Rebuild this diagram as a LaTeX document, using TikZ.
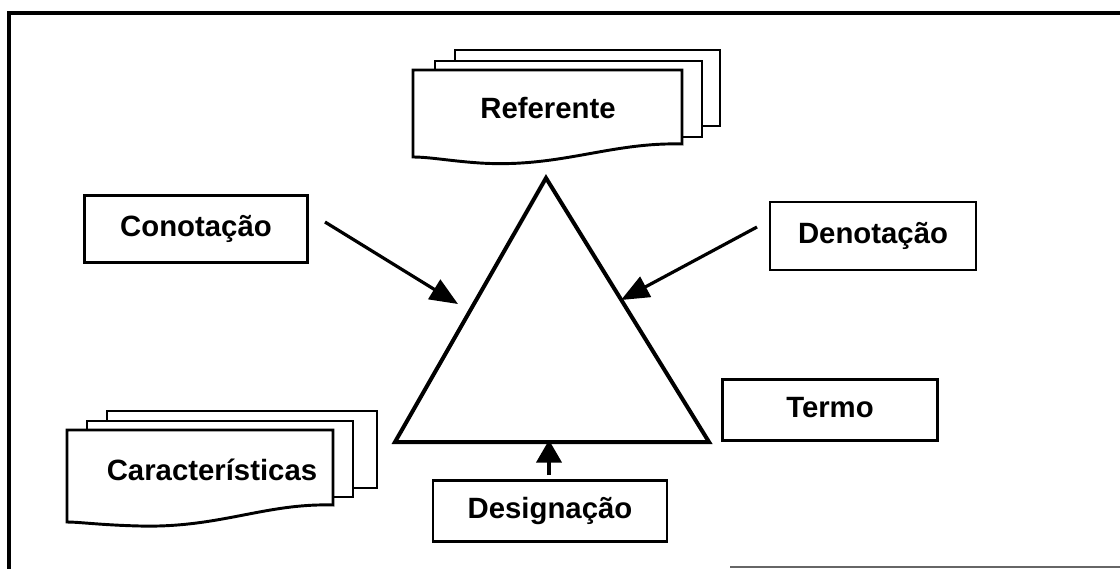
\documentclass[tikz,border=0pt]{standalone}
\usepackage{fontspec}
\setmainfont{Liberation Sans}
\usetikzlibrary{arrows.meta}
\begin{document}
\begin{tikzpicture}[x=0.75pt,y=-0.75pt,
  label/.style={font=\bfseries\fontsize{22}{24}\selectfont, inner sep=0pt},
  box/.style={draw, line width=2.2pt, fill=white},
  sheet/.style={draw, line width=2.2pt, fill=white, line join=miter},
  conn/.style={line width=2.4pt, -{Triangle[length=21pt,width=17pt]}},
  frame/.style={line width=3pt}]
  \useasboundingbox (0,0) rectangle (1120,569);

  % outer frame (top and left edges)
  \coordinate (ftl) at (9,13);
  \coordinate (ftr) at (1120,13);
  \coordinate (fbl) at (9,569);
  \draw[frame] (ftr) -- (ftl) -- (fbl);
  \draw[line width=1pt, black!60] (730,567) -- (1120,567);

  % stacked sheets: Referente
  \draw[sheet] (455,50) rectangle (720,126);
  \draw[sheet] (435,61) rectangle (702,137);
  \draw[sheet] (413,70) -- (682,70) -- (682,144)
     .. controls (610,142) and (560,168) .. (480,163)
     .. controls (450,161) and (430,157) .. (413,157) -- cycle;
  \node[label] (ref) at (548,108) {Referente};

  % stacked sheets: Características
  \draw[sheet] (107,411) rectangle (377,488);
  \draw[sheet] (87,421) rectangle (353,497);
  \draw[sheet] (67,430) -- (333,430) -- (333,505)
     .. controls (265,503) and (220,528) .. (140,526)
     .. controls (100,525) and (80,522) .. (67,522) -- cycle;
  \node[label] (car) at (212,470) {Características};

  % triangle
  \coordinate (apex) at (546,178);
  \coordinate (bl) at (395,442);
  \coordinate (br) at (709,442);
  \draw[line width=3pt, line join=miter] (apex) -- (br) -- (bl) -- cycle;

  % labelled boxes
  \node[box, label, minimum width=223pt*0.75, minimum height=67pt*0.75] (con) at (196,229) {Conotação};
  \node[box, label, minimum width=206pt*0.75, minimum height=68pt*0.75] (den) at (873,236) {Denotação};
  \node[box, label, minimum width=215pt*0.75, minimum height=61pt*0.75, text depth=4pt] (ter) at (830,410) {Termo};
  \node[box, label, minimum width=234pt*0.75, minimum height=61pt*0.75] (des) at (550,511) {Designação};

  % connectors
  \coordinate (conS) at (325,222);
  \coordinate (conE) at (458,304);
  \coordinate (denS) at (757,227);
  \coordinate (denE) at (621,300);
  \coordinate (desS) at (549,475);
  \coordinate (desE) at (549,440);
  \draw[conn] (conS) -- (conE);
  \draw[conn] (denS) -- (denE);
  \draw[conn, -{Triangle[length=17pt,width=19pt]}] (desS) -- (desE);
\end{tikzpicture}
\end{document}
